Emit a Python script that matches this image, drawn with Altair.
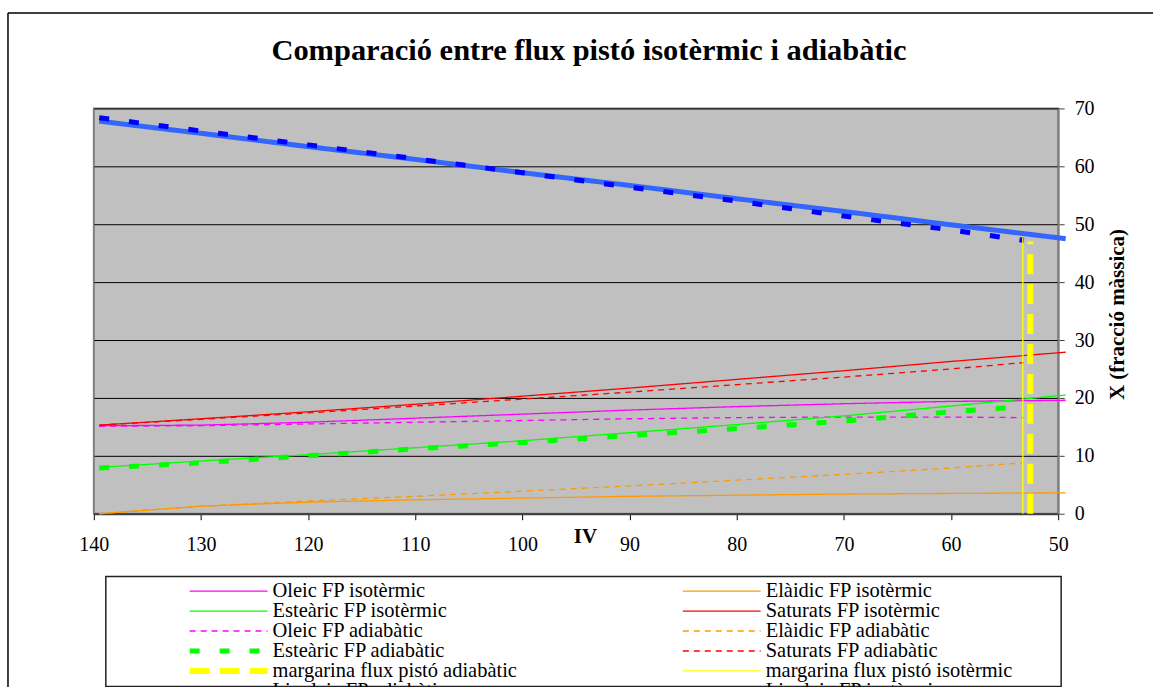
import altair as alt
import pandas as pd

TITLE = "Comparació entre flux pistó isotèrmic i adiabàtic"
X_TITLE = "IV"
Y_TITLE = "X (fracció màssica)"

X_TICKS = [140, 130, 120, 110, 100, 90, 80, 70, 60, 50]
Y_TICKS = [0, 10, 20, 30, 40, 50, 60, 70]

# x positions of the sampled points
X_ISO = [139.5, 130, 120, 110, 100, 90, 80, 70, 60, 49.3]
X_ADI = [139.5, 130, 120, 110, 100, 90, 80, 70, 60, 53.2]

OLEIC_ISO = [15.2, 15.3, 15.8, 16.5, 17.2, 17.9, 18.5, 19.0, 19.4, 19.6]
ELAIDIC_ISO = [0.0, 1.3, 2.0, 2.4, 2.7, 3.0, 3.2, 3.4, 3.5, 3.6]
ESTEARIC_ISO = [8.0, 9.1, 10.2, 11.4, 12.6, 14.0, 15.4, 16.9, 18.6, 20.5]
SATURATS_ISO = [15.3, 16.4, 17.6, 18.9, 20.3, 21.7, 23.2, 24.7, 26.3, 27.9]
LINOLEIC_ISO = [67.8, 65.7, 63.4, 61.2, 58.9, 56.7, 54.4, 52.2, 49.9, 47.5]

OLEIC_ADI = [15.1, 15.2, 15.5, 15.8, 16.1, 16.4, 16.6, 16.7, 16.7, 16.6]
ELAIDIC_ADI = [0.0, 1.3, 2.2, 3.0, 3.9, 4.8, 5.8, 6.8, 7.9, 8.8]
ESTEARIC_ADI = [7.9, 8.8, 10.0, 11.2, 12.3, 13.5, 14.7, 16.0, 17.6, 18.5]
SATURATS_ADI = [15.3, 16.3, 17.4, 18.6, 19.8, 21.0, 22.3, 23.6, 25.0, 26.1]
LINOLEIC_ADI = [68.4, 66.1, 63.7, 61.3, 58.9, 56.4, 54.0, 51.4, 49.0, 47.2]

MARG_ISO_X = [53.3, 53.3]
MARG_ISO_Y = [0.0, 47.6]
MARG_ADI_X = [52.6, 52.6]
MARG_ADI_Y = [0.0, 47.0]

# legend order, column by column (left column, then right column)
LEGEND_ORDER = [
    "Oleic FP isotèrmic",
    "Esteàric FP isotèrmic",
    "Oleic FP adiabàtic",
    "Esteàric FP adiabàtic",
    "margarina flux pistó adiabàtic",
    "Linoleic FP adiabàtic",
    "Elàidic FP isotèrmic",
    "Saturats FP isotèrmic",
    "Elàidic FP adiabàtic",
    "Saturats FP adiabàtic",
    "margarina flux pistó isotèrmic",
    "Linoleic FP isotèrmic",
]
COLORS = [
    "#FF00FF", "#00FF00", "#FF00FF", "#00FF00", "#FFFF00", "#0000FF",
    "#FF9900", "#FF0000", "#FF9900", "#FF0000", "#FFFF00", "#3366FF",
]
DASHES = [
    [1, 0], [1, 0], [6, 5], [10, 20], [20, 10], [10, 20],
    [1, 0], [1, 0], [6, 5], [6, 5], [1, 0], [1, 0],
]
WIDTHS = [1.3, 1.3, 1.3, 5, 6, 5, 1.3, 1.3, 1.3, 1.3, 1.3, 5]

# drawing order (bottom to top)
SERIES = [
    ("Elàidic FP isotèrmic", X_ISO, ELAIDIC_ISO),
    ("Elàidic FP adiabàtic", X_ADI, ELAIDIC_ADI),
    ("Oleic FP isotèrmic", X_ISO, OLEIC_ISO),
    ("Oleic FP adiabàtic", X_ADI, OLEIC_ADI),
    ("Saturats FP isotèrmic", X_ISO, SATURATS_ISO),
    ("Saturats FP adiabàtic", X_ADI, SATURATS_ADI),
    ("Esteàric FP isotèrmic", X_ISO, ESTEARIC_ISO),
    ("Esteàric FP adiabàtic", X_ADI, ESTEARIC_ADI),
    ("Linoleic FP isotèrmic", X_ISO, LINOLEIC_ISO),
    ("Linoleic FP adiabàtic", X_ADI, LINOLEIC_ADI),
    ("margarina flux pistó isotèrmic", MARG_ISO_X, MARG_ISO_Y),
    ("margarina flux pistó adiabàtic", MARG_ADI_X, MARG_ADI_Y),
]

rows = []
for name, xs, ys in SERIES:
    for i, (xv, yv) in enumerate(zip(xs, ys)):
        rows.append({"series": name, "x": xv, "y": yv, "idx": i})
df = pd.DataFrame(rows)

FONT = "Liberation Serif"

legend = alt.Legend(
    title=None,
    orient="none",
    legendX=93,
    legendY=474,
    columns=2,
    columnPadding=163,
    rowPadding=-4.5,
    symbolType="stroke",
    symbolSize=6084,
    clipHeight=19,
    labelFont=FONT,
    labelFontSize=20.5,
    labelColor="black",
    labelOffset=2,
    padding=0,
    labelLimit=400,
)

lines = alt.Chart(df).mark_line(strokeCap="butt").encode(
    x=alt.X(
        "x:Q",
        scale=alt.Scale(domain=[50, 140], reverse=True, nice=False, zero=False),
        axis=alt.Axis(
            values=X_TICKS, title=X_TITLE, grid=False, labelFlush=False,
            labelFont=FONT, labelFontSize=20, labelColor="black",
            labelPadding=15, tickSize=6, tickColor="black",
            domainColor="#404040", domainWidth=2,
            titleFont=FONT, titleFontSize=21, titleFontWeight="bold",
            titleColor="black", titleX=492, titleY=12, titleBaseline="top",
            titleAlign="center",
        ),
    ),
    y=alt.Y(
        "y:Q",
        scale=alt.Scale(domain=[0, 70], nice=False),
        axis=alt.Axis(
            orient="right", values=Y_TICKS, title=Y_TITLE, grid=True,
            gridColor="black", gridWidth=1, labelFlush=False,
            labelFont=FONT, labelFontSize=20, labelColor="black",
            labelPadding=10, tickSize=6, tickColor="#404040",
            domainColor="#808080", domainWidth=2,
            titleFont=FONT, titleFontSize=21, titleFontWeight="bold",
            titleColor="black", titleAngle=270, titleX=59, titleY=206,
            titleAlign="center", titleBaseline="middle",
        ),
    ),
    color=alt.Color("series:N", scale=alt.Scale(domain=LEGEND_ORDER, range=COLORS), legend=legend),
    strokeDash=alt.StrokeDash("series:N", scale=alt.Scale(domain=LEGEND_ORDER, range=DASHES), legend=legend),
    strokeWidth=alt.StrokeWidth(
        "series:N", scale=alt.Scale(type="ordinal", domain=LEGEND_ORDER, range=WIDTHS), legend=legend
    ),
    order=alt.Order("idx:Q"),
    detail="series:N",
)

box_df = pd.DataFrame({"k": [0]})
frame_top = alt.Chart(box_df).mark_rule(stroke="black", strokeWidth=1.5).encode(
    x=alt.value(-86), x2=alt.value(1061), y=alt.value(-95.5)
)
frame_left = alt.Chart(box_df).mark_rule(stroke="black", strokeWidth=1.5).encode(
    x=alt.value(-86), y=alt.value(-95.5), y2=alt.value(580)
)
legend_box = alt.Chart(box_df).mark_rect(fillOpacity=0, stroke="#222222", strokeWidth=1.5).encode(
    x=alt.value(12), x2=alt.value(969), y=alt.value(469), y2=alt.value(579)
)

chart = alt.layer(lines, legend_box, frame_top, frame_left).properties(
    width=966,
    height=406,
    title=alt.TitleParams(
        TITLE, font=FONT, fontSize=30.5, fontWeight="bold", color="black",
        anchor="middle", frame="group", dx=13, offset=-54,
    ),
    padding={"left": 7, "top": 11, "right": 0, "bottom": 0},
    background="white",
).configure_view(
    fill="#C0C0C0", stroke="#808080", strokeWidth=2
)

chart.save("out.html", embed_options={"renderer": "svg", "actions": False})
